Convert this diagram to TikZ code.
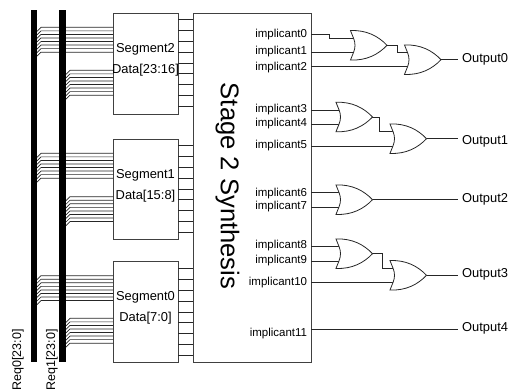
\documentclass[tikz,border=0pt]{standalone}
\usepackage{fontspec}
\setmainfont{Liberation Sans}
\newcommand{\orgate}[3]{%
  \coordinate (#1) at (#2,#3);
  \coordinate (#1-o) at (#2+36.5,#3);
  \draw[wire,fill=white] (#2,#3-14.7) .. controls (#2+16,#3-15.5) and (#2+28,#3-9) .. (#2+36.5,#3)
     .. controls (#2+28,#3+9) and (#2+16,#3+15.5) .. (#2,#3+14.7)
     .. controls (#2+2.5,#3+8) and (#2+4.5,#3+5) .. (#2+4.5,#3)
     .. controls (#2+4.5,#3-5) and (#2+2.5,#3-8) .. cycle;}
\tikzset{
  wire/.style={draw=black!85,line width=0.8pt},
  box/.style={draw=black!75,line width=0.85pt,fill=white},
  segt/.style={font=\fontsize{12.9}{14}\selectfont,inner sep=0pt,anchor=center},
  impl/.style={font=\fontsize{11.5}{12}\selectfont,inner sep=0pt,anchor=east},
  outt/.style={font=\fontsize{12.9}{14}\selectfont,inner sep=0pt,anchor=west},
  reqt/.style={font=\fontsize{12.5}{13}\selectfont,inner sep=0pt,anchor=east,rotate=90},
}
\begin{document}
\begin{tikzpicture}[x=1pt,y=-1pt]
\useasboundingbox (0,0) rectangle (515,391);
% segment boxes
\node[box,minimum width=65pt,minimum height=100.5pt,inner sep=0pt,anchor=north west] (s2) at (113,13) {};
\node[box,minimum width=65pt,minimum height=100.5pt,inner sep=0pt,anchor=north west] (s1) at (113,138.7) {};
\node[box,minimum width=65pt,minimum height=100.5pt,inner sep=0pt,anchor=north west] (s0) at (113,261) {};
\node[box,minimum width=118.5pt,minimum height=349pt,inner sep=0pt,anchor=north west] (st) at (192.5,13) {};
\node[font=\fontsize{25.6}{28}\selectfont,rotate=-90,inner sep=0pt] (sttext) at (227.5,186) {Stage 2 Synthesis};
% bus tap wires
\foreach \top/\bx/\sx in {27.3/37/113,70.3/66/113,153.3/37/113,196.7/66/113,275.7/37/113,318.3/66/113}{
  \foreach \i in {0,...,7}{
    \draw[wire,line width=0.7pt] (\bx,\top+\i*3.55+4) -- (\bx+4,\top+\i*3.55) -- (\sx,\top+\i*3.55);
  }
}
% buses
\node[fill=black,minimum width=6.6pt,minimum height=351.7pt,inner sep=0pt,anchor=north] (b0) at (34,10) {};
\node[fill=black,minimum width=6.6pt,minimum height=351.7pt,inner sep=0pt,anchor=north] (b1) at (62.7,10) {};
\node[reqt] (r0) at (18,329) {Req0[23:0]};
\node[reqt] (r1) at (52,329) {Req1[23:0]};
% stubs
\foreach \top in {19.3,145.3,268.3}{
  \foreach \i in {0,...,8}{
    \draw[wire] (178,\top+\i*10.9) -- (192.5,\top+\i*10.9);
  }
}
% segment texts
\node[segt] (t2a) at (145.5,49) {Segment2};
\node[segt] (t2b) at (145.5,70) {Data[23:16]};
\node[segt] (t1a) at (145.5,175) {Segment1};
\node[segt] (t1b) at (145.5,196) {Data[15:8]};
\node[segt] (t0a) at (145.5,297) {Segment0};
\node[segt] (t0b) at (145.5,318) {Data[7:0]};
% implicant labels
\foreach \n/\y/\t in {i0/34.3/implicant0,i1/52/implicant1,i2/67.3/implicant2,i3/110/implicant3,i4/124/implicant4,i5/146/implicant5,i6/193.3/implicant6,i7/207/implicant7,i8/246/implicant8,i9/260.7/implicant9,i10/282.3/implicant10,i11/333.3/implicant11}{
  \node[impl] (\n) at (307.3,\y) {\t};
}
% coordinates on the stage box edge
\foreach \n/\y in {p0/34.3,p1/52.7,p2/66.7,p3/110,p4/124,p5/146,p6/192.7,p7/207,p8/246.7,p9/261,p10/282.7,p11/329.3}{
  \coordinate (\n) at (311,\y);
}
% wires to gates (under gates)
\draw[wire] (p0) -- (329,34.3) -- (329,38) -- (355,38);
\draw[wire] (p1) -- (355,52.7);
\draw[wire] (p2) -- (408,66.7);
\draw[wire] (p3) -- (340,110);
\draw[wire] (p4) -- (340,124);
\draw[wire] (p5) -- (394,146);
\draw[wire] (p6) -- (340,192.7);
\draw[wire] (p7) -- (340,207);
\draw[wire] (p8) -- (340,246.7);
\draw[wire] (p9) -- (340,261);
\draw[wire] (p10) -- (394,282.7);
\coordinate (w0) at (397,45.5);
\coordinate (w2) at (379.3,117);
\coordinate (w5) at (382.7,253.7);
\draw[wire] (387,45.5) -- (w0) -- (397,52.3) -- (408,52.3);
\draw[wire] (372,117) -- (w2) -- (379.3,131.7) -- (394,131.7);
\draw[wire] (372,253.7) -- (w5) -- (382.7,268.3) -- (394,268.3);
% gates
\orgate{g0}{350.5}{45.3}
\orgate{g1}{404.5}{59.7}
\orgate{g2}{336}{117}
\orgate{g3}{390}{138.7}
\orgate{g4}{336}{199.7}
\orgate{g5}{336}{253.7}
\orgate{g6}{390}{275.3}
% outputs
\node[outt] (o0) at (462,59.5) {Output0};
\node[outt] (o1) at (462,141) {Output1};
\node[outt] (o2) at (462,199.5) {Output2};
\node[outt] (o3) at (462,274.5) {Output3};
\node[outt] (o4) at (462,328.5) {Output4};
\coordinate (e0) at (457.5,59.7);
\coordinate (e1) at (457.5,138.7);
\coordinate (e2) at (457.5,199.7);
\coordinate (e3) at (457.5,275.3);
\coordinate (e4) at (457.5,329.3);
\draw[wire] (g1-o) -- (e0);
\draw[wire] (g3-o) -- (e1);
\draw[wire] (g4-o) -- (e2);
\draw[wire] (g6-o) -- (e3);
\draw[wire] (p11) -- (e4);
\end{tikzpicture}
\end{document}
